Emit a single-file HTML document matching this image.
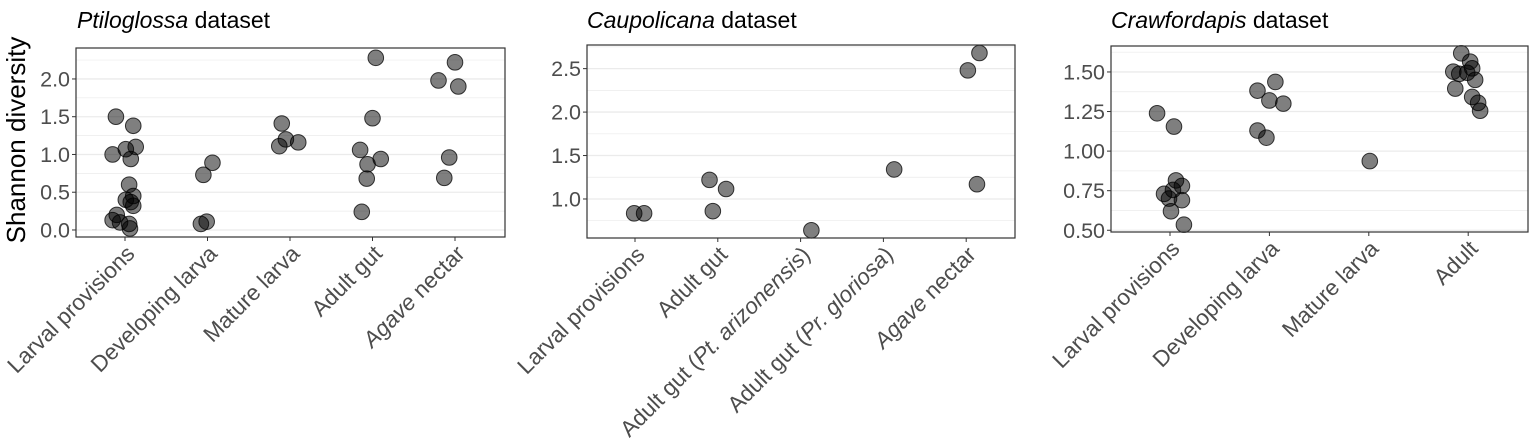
<!DOCTYPE html>
<html><head><meta charset="utf-8"><style>
body{margin:0;background:#fff}
svg{display:block;font-family:"Liberation Sans",Arial,sans-serif}
</style></head><body>
<svg id="chart" width="1535" height="444" viewBox="0 0 1535 444">
<text transform="translate(25,140) rotate(-90)" text-anchor="middle" font-size="26" fill="#000">Shannon diversity</text>
</svg>
<script>
// Panel 1: Ptiloglossa
const p1Categories = ["Larval provisions","Developing larva","Mature larva","Adult gut","Agave nectar"];
const p1Cat = [0,0,0,0,0,0,0,0,0,0,0,0,0,0,0,0, 1,1,1,1, 2,2,2,2, 3,3,3,3,3,3,3, 4,4,4,4,4];
const p1Jit = [-0.11,0.1,-0.15,0.01,0.13,0.07,0.05,0.1,0.01,0.07,0.1,-0.15,-0.1,-0.06,0.05,0.06,
  -0.05,0.06,-0.08,-0.01, -0.1,-0.05,-0.13,0.1, 0.04,0,-0.15,0.1,-0.06,-0.07,-0.13, 0,-0.2,0.04,-0.07,-0.13];
const p1Val = [1.5,1.38,1.0,1.07,1.1,0.94,0.6,0.45,0.4,0.37,0.32,0.13,0.2,0.1,0.08,0.02,
  0.73,0.89,0.08,0.11, 1.41,1.2,1.11,1.16, 2.28,1.48,1.06,0.94,0.87,0.68,0.24, 2.22,1.98,1.9,0.96,0.69];
const p1Ticks = ["0.0","0.5","1.0","1.5","2.0"];
// Panel 2: Caupolicana
const p2Categories = ["Larval provisions","Adult gut","Adult gut (Pt. arizonensis)","Adult gut (Pr. gloriosa)","Agave nectar"];
const p2Cat = [0,0,1,1,1,2,3,4,4,4];
const p2Jit = [-0.01,0.11,-0.1,0.1,-0.06,0.13,0.13,0.02,0.16,0.13];
const p2Val = [0.835,0.835,1.22,1.115,0.86,0.64,1.34,2.48,2.68,1.17];
const p2Ticks = ["1.0","1.5","2.0","2.5"];
// Panel 3: Crawfordapis
const p3Categories = ["Larval provisions","Developing larva","Mature larva","Adult"];
const p3Cat = [0,0,0,0,0,0,0,0,0,0, 1,1,1,1,1,1, 2, 3,3,3,3,3,3,3,3,3,3,3];
const p3Jit = [-0.13,0.04,0.06,0.12,-0.06,0.03,-0.01,0.12,0.01,0.14, -0.12,0.06,0,0.14,-0.12,-0.03, 0.01,
  -0.07,0.02,0.04,-0.15,-0.09,-0.01,0.07,-0.13,0.04,0.1,0.12];
const p3Val = [1.239,1.155,0.815,0.78,0.73,0.755,0.70,0.69,0.62,0.535, 1.382,1.437,1.32,1.30,1.13,1.085, 0.937,
  1.618,1.565,1.523,1.502,1.488,1.495,1.45,1.395,1.342,1.305,1.255];
const p3Ticks = ["0.50","0.75","1.00","1.25","1.50"];

const NS="http://www.w3.org/2000/svg";
const svg=document.getElementById('chart');
function mk(tag,attrs,parent){const e=document.createElementNS(NS,tag);for(const k in attrs)e.setAttribute(k,attrs[k]);(parent||svg).appendChild(e);return e;}

const panels=[
 {name:'ptiloglossa',title:'Ptiloglossa',cats:p1Categories,c:p1Cat,j:p1Jit,v:p1Val,ticks:p1Ticks,
  box:[76,48,505,237],ymin:-0.093,ymax:2.41,x0:125,dx:82.5,tx:77},
 {name:'caupolicana',title:'Caupolicana',cats:p2Categories,c:p2Cat,j:p2Jit,v:p2Val,ticks:p2Ticks,
  box:[587,45,1015,238],ymin:0.551,ymax:2.772,x0:635,dx:82.8,tx:587},
 {name:'crawfordapis',title:'Crawfordapis',cats:p3Categories,c:p3Cat,j:p3Jit,v:p3Val,ticks:p3Ticks,
  box:[1111,46,1528,232],ymin:0.489,ymax:1.664,x0:1170,dx:99.4,tx:1111}
];
panels.forEach(p=>{
  const [L,T,R,B]=p.box;
  const g=mk('g',{});
  
  
  const y=v=>B-(v-p.ymin)/(p.ymax-p.ymin)*(B-T);
  const x=(c,j)=>p.x0+(c+j)*p.dx;
  const t=mk('text',{x:p.tx,y:28,'font-size':23,fill:'#000'},g);
  
  
  const ti=mk('tspan',{'font-style':'italic'},t);ti.textContent=p.title;
  const t2=mk('tspan',{},t);t2.textContent=' dataset';
  mk('rect',{x:L,y:T,width:R-L,height:B-T,fill:'#fff'},g);
  const tv=p.ticks.map(Number);const step=tv[1]-tv[0];
  for(let v=tv[0]-step/2;v<p.ymax;v+=step/2){
    if(v<p.ymin)continue;
    const major=p.ticks.some(s=>Math.abs(Number(s)-v)<1e-6);
    const gl=mk('line',{x1:L,x2:R,y1:y(v),y2:y(v),stroke:'#ebebeb','stroke-width':major?1.3:0.7},g);
    
    
  }
  p.ticks.forEach(s=>{
    const v=Number(s);
    mk('line',{x1:L-4,x2:L,y1:y(v),y2:y(v),stroke:'#333','stroke-width':1},g);
    const tl=mk('text',{x:L-6,y:y(v)+7.5,'text-anchor':'end','font-size':21.5,fill:'#4d4d4d'},g);
    
    
    tl.textContent=s;
  });
  p.cats.forEach((c,i)=>{
    const cx=x(i,0);
    mk('line',{x1:cx,x2:cx,y1:B,y2:B+4,stroke:'#333','stroke-width':1},g);
    const tl=mk('text',{transform:`translate(${cx+11},${B+18}) rotate(-45)`,'text-anchor':'end','font-size':22.5,fill:'#4d4d4d'},g);
    
    
    const m=c.match(/^(.*?\()(P[tr]\. \w+)(\).*)$/);
    if(m){const a=mk('tspan',{},tl);a.textContent=m[1];const b=mk('tspan',{'font-style':'italic'},tl);b.textContent=m[2];const d=mk('tspan',{},tl);d.textContent=m[3];}
    else if(c.startsWith('Agave')){const b=mk('tspan',{'font-style':'italic'},tl);b.textContent='Agave';const d=mk('tspan',{},tl);d.textContent=' nectar';}
    else tl.textContent=c;
  });
  p.v.forEach((v,i)=>{
    const pt=mk('circle',{cx:x(p.c[i],p.j[i]),cy:y(v),r:7.8,fill:'rgba(0,0,0,0.5)',stroke:'rgba(0,0,0,0.75)','stroke-width':1},g);
    
    
  });
  mk('rect',{x:L,y:T,width:R-L,height:B-T,fill:'none',stroke:'#333','stroke-width':1.2},g);
});
</script>
</body></html>
